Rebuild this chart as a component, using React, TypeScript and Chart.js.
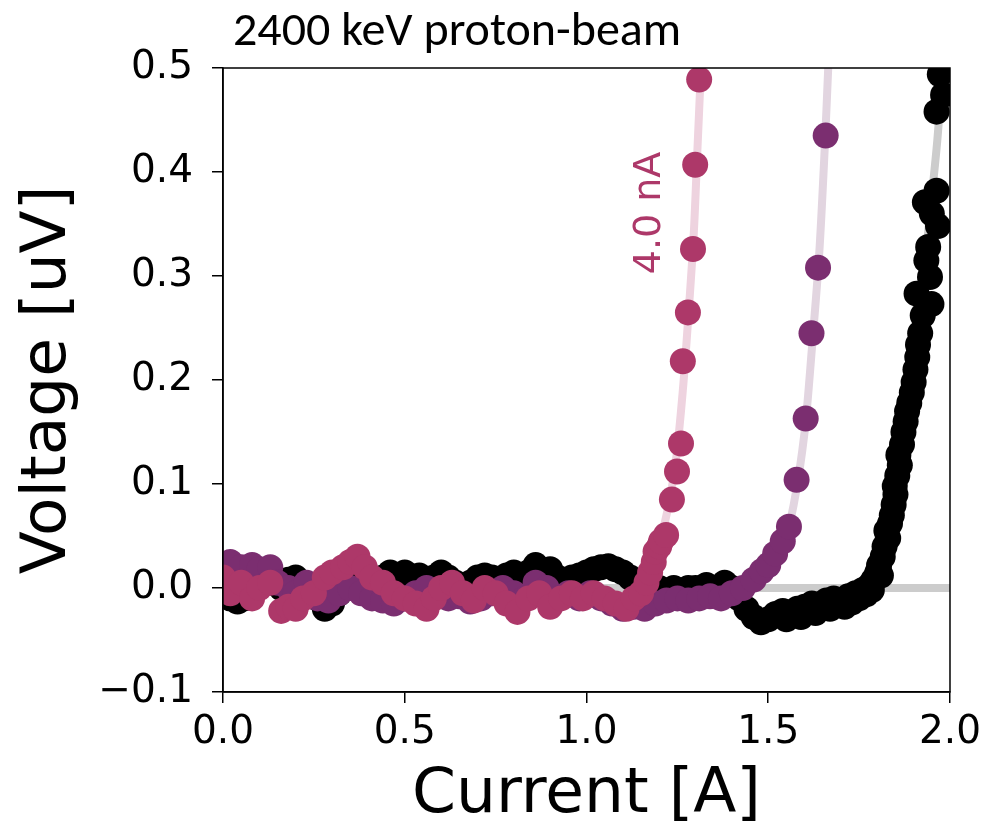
import React, { useEffect, useRef } from "react";
import { Chart, registerables } from "chart.js";

Chart.register(...registerables);

const titleText = "2400 keV proton-beam";
const xTitle = "Current [A]";
const yTitle = "Voltage [uV]";
const annotationText = "4.0 nA";

const pinkPoints: [number, number][] = [
  [0.00,0.010],[0.02,-0.005],[0.05,0.005],[0.08,-0.010],[0.10,0.000],[0.13,0.005],[0.16,-0.022],[0.18,-0.018],[0.20,-0.020],[0.22,-0.010],
  [0.25,-0.005],[0.28,0.010],[0.30,0.015],[0.33,0.020],[0.35,0.025],[0.37,0.030],[0.39,0.020],[0.41,0.010],[0.44,0.005],[0.47,-0.005],
  [0.50,-0.010],[0.53,-0.015],[0.56,-0.020],[0.58,-0.010],[0.60,0.000],[0.63,0.005],[0.66,-0.005],[0.69,-0.012],[0.72,0.000],[0.75,-0.005],
  [0.78,-0.015],[0.81,-0.023],[0.84,-0.010],[0.87,-0.005],[0.90,-0.018],[0.93,-0.010],[0.96,-0.005],[0.99,-0.010],[1.02,-0.005],[1.05,-0.010],
  [1.08,-0.015],[1.11,-0.020],[1.13,-0.010],[1.15,-0.005],[1.165,0.005],[1.175,0.015],[1.185,0.025],[1.19,0.035],[1.20,0.040],[1.205,0.045],
  [1.219,0.051],[1.235,0.085],[1.249,0.112],[1.260,0.139],[1.265,0.218],[1.279,0.265],[1.293,0.326],[1.299,0.407],[1.310,0.489],
];

const purplePoints: [number, number][] = [
  [0.00,0.022],[0.02,0.025],[0.05,0.020],[0.08,0.022],[0.10,0.018],[0.13,0.020],[0.15,0.005],[0.18,0.000],[0.20,-0.005],[0.23,0.005],
  [0.26,-0.010],[0.29,-0.012],[0.32,-0.005],[0.35,0.000],[0.38,-0.005],[0.41,-0.010],[0.44,-0.012],[0.47,-0.015],[0.50,-0.010],[0.53,-0.005],
  [0.56,0.000],[0.59,-0.005],[0.62,-0.010],[0.65,-0.008],[0.68,-0.013],[0.71,-0.010],[0.74,-0.005],[0.77,0.000],[0.80,-0.005],[0.83,-0.010],
  [0.86,0.005],[0.89,0.000],[0.92,-0.010],[0.95,-0.005],[0.98,-0.010],[1.01,-0.005],[1.04,-0.010],[1.07,-0.015],[1.10,-0.020],[1.13,-0.018],
  [1.16,-0.020],[1.19,-0.015],[1.22,-0.012],[1.25,-0.010],[1.28,-0.012],[1.31,-0.010],[1.34,-0.008],[1.37,-0.010],[1.40,-0.005],[1.43,0.000],
  [1.46,0.008],[1.482,0.016],[1.50,0.022],[1.519,0.033],[1.54,0.045],[1.557,0.059],[1.578,0.104],[1.603,0.163],[1.619,0.245],[1.637,0.308],
  [1.658,0.435],
];

const blackPoints: [number, number][] = [
  [0.00,-0.005],[0.02,-0.010],[0.04,-0.013],[0.06,-0.010],[0.08,0.000],[0.10,0.005],[0.12,0.010],[0.14,0.005],[0.16,0.000],[0.18,0.008],
  [0.20,0.010],[0.22,0.005],[0.24,0.000],[0.26,-0.010],[0.28,-0.020],[0.30,-0.015],[0.32,-0.005],[0.34,0.005],[0.36,0.010],[0.38,0.005],
  [0.40,0.000],[0.42,0.005],[0.44,0.010],[0.46,0.015],[0.48,0.012],[0.50,0.015],[0.52,0.010],[0.54,0.012],[0.56,0.008],[0.58,0.010],
  [0.60,0.015],[0.62,0.010],[0.64,0.005],[0.66,0.000],[0.68,0.005],[0.70,0.010],[0.72,0.012],[0.74,0.010],[0.76,0.008],[0.78,0.012],
  [0.80,0.015],[0.82,0.010],[0.84,0.015],[0.86,0.022],[0.88,0.015],[0.90,0.018],[0.92,0.010],[0.94,0.005],[0.96,0.010],[0.98,0.012],
  [1.00,0.015],[1.02,0.018],[1.04,0.020],[1.06,0.021],[1.08,0.018],[1.10,0.015],[1.12,0.010],[1.14,0.005],[1.16,0.000],[1.18,-0.005],
  [1.20,0.000],[1.22,-0.005],[1.24,0.000],[1.26,-0.005],[1.28,0.000],[1.30,0.000],[1.33,0.003],[1.36,0.000],[1.38,0.005],[1.40,0.000],
  [1.42,-0.010],[1.44,-0.020],[1.46,-0.028],[1.48,-0.033],[1.50,-0.030],[1.52,-0.025],[1.54,-0.022],[1.55,-0.030],[1.56,-0.025],[1.58,-0.020],
  [1.59,-0.028],[1.60,-0.018],[1.62,-0.015],[1.63,-0.024],[1.64,-0.018],[1.66,-0.012],[1.67,-0.020],[1.68,-0.010],[1.70,-0.012],[1.71,-0.018],
  [1.72,-0.008],[1.73,-0.014],[1.74,-0.005],[1.75,-0.010],[1.76,-0.002],[1.77,-0.006],[1.78,0.003],[1.785,-0.002],[1.79,0.008],[1.80,0.015],
  [1.805,0.022],[1.81,0.012],[1.815,0.030],[1.82,0.040],[1.825,0.055],[1.83,0.048],[1.835,0.062],[1.84,0.070],[1.845,0.080],[1.848,0.098],
  [1.85,0.090],[1.855,0.108],[1.862,0.118],[1.858,0.128],[1.868,0.138],[1.872,0.150],[1.878,0.160],[1.882,0.170],[1.888,0.178],[1.895,0.188],
  [1.900,0.198],[1.905,0.210],[1.910,0.222],[1.912,0.234],[1.918,0.245],[1.925,0.262],[1.949,0.273],[1.908,0.283],[1.945,0.299],[1.935,0.315],
  [1.940,0.328],[1.967,0.348],[1.950,0.360],[1.931,0.371],[1.963,0.382],[1.963,0.458],[1.981,0.474],[1.972,0.494],[1.990,0.500],
];

const pinkFit: [number, number][] = [
  [1.15,0.0],[1.19,0.03],[1.22,0.07],[1.245,0.12],[1.265,0.19],[1.28,0.26],[1.295,0.34],[1.305,0.42],[1.315,0.5],
];
const purpleFit: [number, number][] = [
  [1.45,0.0],[1.50,0.015],[1.54,0.04],[1.57,0.08],[1.60,0.15],[1.62,0.23],[1.64,0.32],[1.655,0.42],[1.665,0.5],
];
const blackFit: [number, number][] = [
  [1.78,0.0],[1.82,0.03],[1.85,0.08],[1.875,0.14],[1.90,0.21],[1.925,0.29],[1.945,0.36],[1.965,0.43],[1.98,0.5],
];
const zeroLine: [number, number][] = [[0.0,0.0],[2.0,0.0]];

const xTicks = [0.0, 0.5, 1.0, 1.5, 2.0];
const yTicks = [-0.1, 0.0, 0.1, 0.2, 0.3, 0.4, 0.5];

const PINK = "#ad3869";
const PURPLE = "#7b2e70";
const BLACK = "#000000";

const toXY = (pts: [number, number][]) => pts.map(([x, y]) => ({ x, y }));

export default function App() {
  const ref = useRef<HTMLCanvasElement | null>(null);
  useEffect(() => {
    document.body.style.margin = "0";
    const canvas = ref.current!;
    const tickFont = { family: "'DejaVu Sans', sans-serif", size: 39 };

    const textPlugin = {
      id: "texts",
      afterDraw(chart: any) {
        const ctx = chart.ctx as CanvasRenderingContext2D;
        const a = chart.chartArea;
        ctx.save();
        ctx.strokeStyle = "#000";
        ctx.lineWidth = 1.5;
        ctx.strokeRect(a.left, a.top, a.right - a.left, a.bottom - a.top);
        ctx.fillStyle = "#000";
        ctx.font = "48px Carlito, 'Liberation Sans Narrow', 'Open Sans', sans-serif";
        ctx.textAlign = "left";
        ctx.textBaseline = "alphabetic";
        ctx.fillText(titleText, 233, 45);
        ctx.font = "63px 'DejaVu Sans', sans-serif";
        ctx.textAlign = "center";
        ctx.fillText(xTitle, (a.left + a.right) / 2, 812);
        ctx.save();
        ctx.translate(65, (a.top + a.bottom) / 2);
        ctx.rotate(-Math.PI / 2);
        ctx.fillText(yTitle, 0, 0);
        ctx.restore();
        ctx.save();
        ctx.fillStyle = PINK;
        ctx.font = "38px 'DejaVu Sans', sans-serif";
        ctx.translate(660, 213);
        ctx.rotate(-Math.PI / 2);
        ctx.textAlign = "center";
        ctx.fillText(annotationText, 0, 0);
        ctx.restore();
        ctx.restore();
      },
    };

    const pointDs = (label: string, pts: [number, number][], color: string, order: number) => ({
      label,
      data: toXY(pts),
      backgroundColor: color,
      borderColor: color,
      borderWidth: 0,
      pointRadius: 13,
      pointHoverRadius: 13,
      showLine: false,
      order,
      clip: 0,
    });
    const lineDs = (label: string, pts: [number, number][], color: string, order: number) => ({
      label,
      data: toXY(pts),
      borderColor: color,
      backgroundColor: color,
      borderWidth: 8,
      pointRadius: 0,
      showLine: true,
      tension: 0.3,
      order,
      clip: 0,
    });

    const chart = new Chart(canvas, {
      type: "scatter",
      data: {
        datasets: [
          pointDs("pink", pinkPoints, PINK, 0),
          pointDs("purple", purplePoints, PURPLE, 1),
          pointDs("black", blackPoints, BLACK, 2),
          lineDs("pinkFit", pinkFit, "#eed3df", 3),
          lineDs("purpleFit", purpleFit, "#e2d5e0", 4),
          lineDs("blackFit", blackFit, "#cccccc", 5),
          lineDs("zero", zeroLine, "#cccccc", 6),
        ] as any,
      },
      options: {
        responsive: false,
        animation: false,
        events: [],
        layout: { padding: { left: 0, top: 68, right: 36, bottom: 0 } },
        plugins: { legend: { display: false }, tooltip: { enabled: false }, title: { display: false } },
        scales: {
          x: {
            type: "linear",
            min: 0,
            max: 2,
            afterFit(scale: any) { scale.height = 135; },
            afterBuildTicks(scale: any) { scale.ticks = xTicks.map((v) => ({ value: v })); },
            grid: { drawOnChartArea: false, drawTicks: true, tickLength: 11, color: "#000", lineWidth: 1.5 },
            border: { display: true, color: "#000", width: 1.5 },
            ticks: {
              color: "#000",
              font: tickFont,
              padding: 6,
              maxRotation: 0,
              callback: (v: any) => Number(v).toFixed(1),
            },
          },
          y: {
            type: "linear",
            min: -0.1,
            max: 0.5,
            afterFit(scale: any) { scale.width = 223; },
            afterBuildTicks(scale: any) { scale.ticks = yTicks.map((v) => ({ value: v })); },
            grid: { drawOnChartArea: false, drawTicks: true, tickLength: 11, color: "#000", lineWidth: 1.5 },
            border: { display: true, color: "#000", width: 1.5 },
            ticks: {
              color: "#000",
              font: tickFont,
              padding: 19,
              callback: (v: any) => Number(v).toFixed(1).replace("-", "\u2212"),
            },
          },
        },
      } as any,
      plugins: [textPlugin],
    });
    return () => chart.destroy();
  }, []);
  return <canvas ref={ref} width={987} height={827} style={{ display: "block", width: 987, height: 827 }} />;
}
